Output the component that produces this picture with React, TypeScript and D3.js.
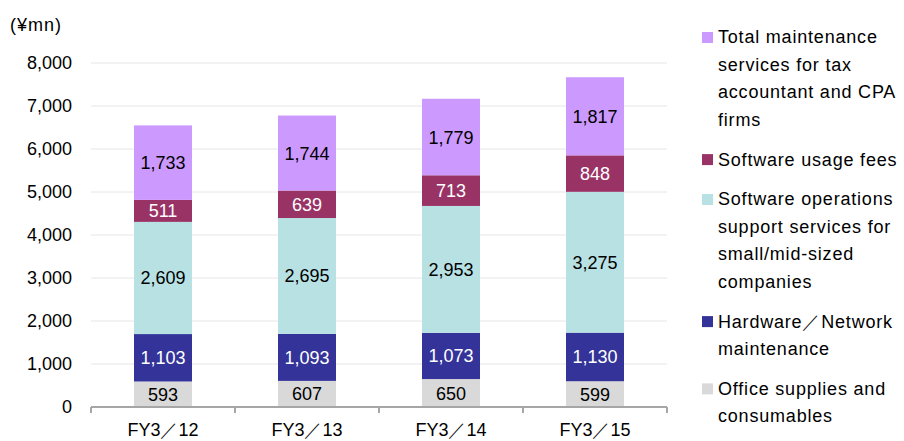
import React, { useRef, useEffect } from 'react';
import * as d3 from 'd3';

const categories = ['FY3/12', 'FY3/13', 'FY3/14', 'FY3/15'];
// bottom to top
const seriesNames = [
  'Office supplies and consumables',
  'Hardware/Network maintenance',
  'Software operations support services for small/mid-sized companies',
  'Software usage fees',
  'Total maintenance services for tax accountant and CPA firms',
];
const officeSupplies = [593, 607, 650, 599];
const hardwareNetwork = [1103, 1093, 1073, 1130];
const softwareOps = [2609, 2695, 2953, 3275];
const softwareUsage = [511, 639, 713, 848];
const totalMaintenance = [1733, 1744, 1779, 1817];
const yTicks = [0, 1000, 2000, 3000, 4000, 5000, 6000, 7000, 8000];

const colors = ['#D9D9D9', '#333399', '#B8E1E4', '#993366', '#CC99FF'];
const labelColors = ['#000', '#fff', '#000', '#fff', '#000'];

// legend rows, top to bottom, with wrapped lines
const legendRows = [
  { idx: 4, lines: ['Total maintenance', 'services for tax', 'accountant and CPA', 'firms'] },
  { idx: 3, lines: ['Software usage fees'] },
  { idx: 2, lines: ['Software operations', 'support services for', 'small/mid\u2010sized', 'companies'] },
  { idx: 1, lines: ['Hardware\uFF0FNetwork', 'maintenance'] },
  { idx: 0, lines: ['Office supplies and', 'consumables'] },
];

const FONT = '"Liberation Sans", Arial, sans-serif';

export default function App() {
  const ref = useRef<SVGSVGElement>(null);

  useEffect(() => {
    const svg = d3.select(ref.current);
    svg.selectAll('*').remove();
    const width = 904;
    const height = 441;
    const margin = { left: 91, right: 237, top: 63, bottom: 34 };

    const x = d3.scaleBand().domain(categories).range([margin.left, width - margin.right]).paddingInner(0).paddingOuter(0);
    const y = d3.scaleLinear().domain([0, 8000]).range([height - margin.bottom, margin.top]);
    const barW = 58;

    const data = [officeSupplies, hardwareNetwork, softwareOps, softwareUsage, totalMaintenance];
    const table = categories.map((c, i) => {
      const row: any = { cat: c };
      data.forEach((s, k) => (row['s' + k] = s[i]));
      return row;
    });
    const stacked = d3.stack().keys(data.map((_, k) => 's' + k))(table);

    // gridlines
    svg.append('g')
      .selectAll('line')
      .data(yTicks.slice(1))
      .enter()
      .append('line')
      .attr('x1', margin.left)
      .attr('x2', width - margin.right)
      .attr('y1', d => y(d))
      .attr('y2', d => y(d))
      .attr('stroke', '#E6E6E6')
      .attr('stroke-width', 1);

    // y labels
    svg.append('g')
      .selectAll('text')
      .data(yTicks)
      .enter()
      .append('text')
      .attr('x', 72)
      .attr('y', d => y(d))
      .attr('dy', '0.36em')
      .attr('text-anchor', 'end')
      .attr('font-family', FONT)
      .attr('font-size', 18)
      .attr('fill', '#000')
      .text(d => d3.format(',')(d));

    svg.append('text')
      .attr('x', 10)
      .attr('y', 31)
      .attr('font-family', FONT)
      .attr('font-size', 18)
      .attr('letter-spacing', 1)
      .text('(¥mn)');

    // bars
    stacked.forEach((layer, k) => {
      const g = svg.append('g');
      g.selectAll('rect')
        .data(layer)
        .enter()
        .append('rect')
        .attr('x', (d: any) => x(d.data.cat)! + x.bandwidth() / 2 - barW / 2)
        .attr('width', barW)
        .attr('y', d => y(d[1]))
        .attr('height', d => y(d[0]) - y(d[1]))
        .attr('fill', colors[k]);
      g.selectAll('text')
        .data(layer)
        .enter()
        .append('text')
        .attr('x', (d: any) => x(d.data.cat)! + x.bandwidth() / 2)
        .attr('y', d => (y(d[0]) + y(d[1])) / 2)
        .attr('dy', '0.36em')
        .attr('text-anchor', 'middle')
        .attr('font-family', FONT)
        .attr('font-size', 18)
        .attr('fill', labelColors[k])
        .text(d => d3.format(',')(d[1] - d[0]));
    });

    // x axis
    const axisY = y(0);
    const axisColor = '#A6A6A6';
    svg.append('line')
      .attr('x1', margin.left)
      .attr('x2', width - margin.right)
      .attr('y1', axisY)
      .attr('y2', axisY)
      .attr('stroke', axisColor)
      .attr('stroke-width', 2);
    const tickXs = categories.map(c => x(c)!).concat([x(categories[categories.length - 1])! + x.bandwidth()]);
    svg.append('g')
      .selectAll('line')
      .data(tickXs)
      .enter()
      .append('line')
      .attr('x1', d => d)
      .attr('x2', d => d)
      .attr('y1', axisY)
      .attr('y2', axisY + 6)
      .attr('stroke', axisColor)
      .attr('stroke-width', 2);
    svg.append('g')
      .selectAll('text')
      .data(categories)
      .enter()
      .append('text')
      .attr('x', d => x(d)! + x.bandwidth() / 2)
      .attr('y', 436)
      .attr('text-anchor', 'middle')
      .attr('font-family', FONT)
      .attr('font-size', 18)
      .text(d => d.replace('/', '\uFF0F'));

    // legend
    const lineH = 27.4;
    let ly = 37;
    const lg = svg.append('g');
    legendRows.forEach(row => {
      lg.append('rect')
        .attr('x', 702)
        .attr('y', ly - 5)
        .attr('width', 11)
        .attr('height', 11)
        .attr('fill', colors[row.idx]);
      row.lines.forEach((ln, j) => {
        lg.append('text')
          .attr('x', 718)
          .attr('y', ly + j * lineH)
          .attr('dy', '0.36em')
          .attr('font-family', FONT)
          .attr('font-size', 18)
          .attr('letter-spacing', 0.8)
          .attr('fill', '#000')
          .text(ln);
      });
      ly += row.lines.length * lineH + 12.5;
    });
  }, []);

  return (
    <svg
      ref={ref}
      width={904}
      height={441}
      style={{ position: 'absolute', left: 0, top: 0, display: 'block' }}
    />
  );
}
